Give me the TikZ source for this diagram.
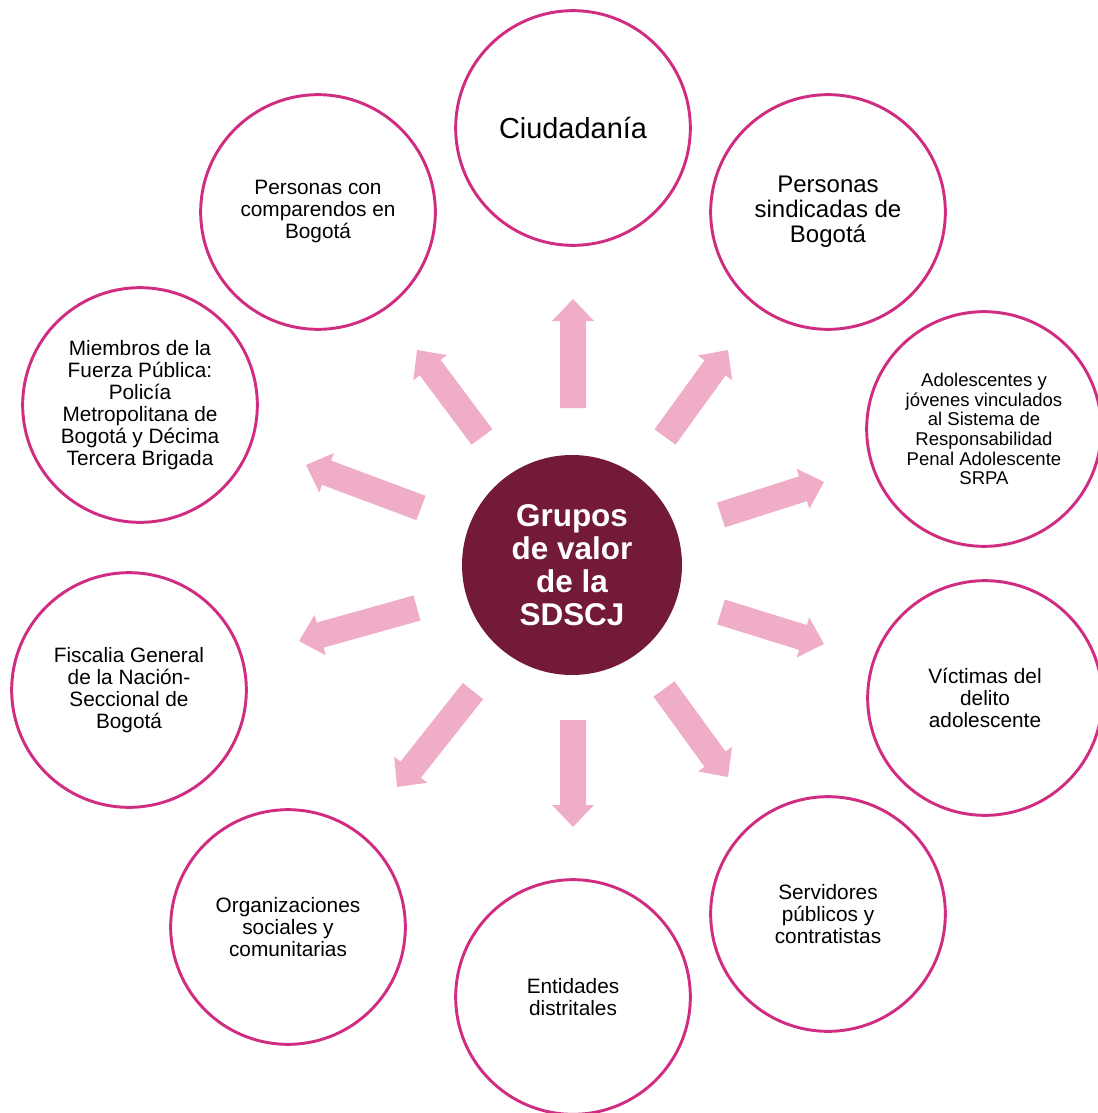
\documentclass[tikz,border=0pt]{standalone}
\usepackage{fontspec}
\setmainfont{Liberation Sans}
\definecolor{ringc}{RGB}{208,44,130}
\definecolor{arrowc}{RGB}{240,173,200}
\definecolor{hubc}{RGB}{115,26,54}
\begin{document}
\begin{tikzpicture}[x=0.75pt,y=-0.75pt,
  group/.style={circle, draw=ringc, line width=2.2pt, fill=white, minimum size=176pt,
    inner sep=0pt, align=center, font=\fontsize{15.6}{16.5}\selectfont},
  hub/.style={circle, fill=hubc, minimum size=165pt, inner sep=0pt, align=center,
    text=white, font=\fontsize{23.6}{24.75}\selectfont\bfseries},
  blockarrow/.style={fill=arrowc}]
\useasboundingbox (0,0) rectangle (1097,1113);

% block arrows radiating from the hub
\foreach \ax/\ay/\bx/\by in {573/408/573/299, 665/437/728/350, 721/515/824/482,
    721/612/824/644, 664/689/728/777, 573/720/573/827, 473/691/397/787,
    417/608/299/641, 421/508/306/465, 482/437/417/350}{
  \pgfmathsetmacro\ang{atan2(-(\by-\ay),\bx-\ax)}
  \pgfmathsetmacro\len{veclen(\bx-\ax,\by-\ay)}
  \begin{scope}[shift={(\ax,\ay)}, rotate=\ang]
    \fill[blockarrow] (0,-13) -- (\len-22,-13) -- (\len-22,-21) -- (\len,0)
      -- (\len-22,21) -- (\len-22,13) -- (0,13) -- cycle;
  \end{scope}
}

\node[hub] (hub) at (572,565) {Grupos\\de valor\\de la\\SDSCJ};

\node[group, font=\fontsize{21.7}{24}\selectfont] (ciud) at (573,128) {Ciudadanía};
\node[group, font=\fontsize{18}{18.75}\selectfont] (sind) at (828,212) {Personas\\sindicadas de\\Bogotá};
\node[group, font=\fontsize{13.9}{14.8}\selectfont] (adol) at (984,429) {Adolescentes y\\jóvenes vinculados\\al Sistema de\\Responsabilidad\\Penal Adolescente\\SRPA};
\node[group] (vict) at (985,698) {Víctimas del\\delito\\adolescente};
\node[group] (serv) at (828,914) {Servidores\\públicos y\\contratistas};
\node[group] (enti) at (573,997) {Entidades\\distritales};
\node[group] (orga) at (288,927) {Organizaciones\\sociales y\\comunitarias};
\node[group] (fisc) at (129,690) {Fiscalia General\\de la Nación-\\Seccional de\\Bogotá};
\node[group] (miem) at (140,405) {Miembros de la\\Fuerza Pública:\\Policía\\Metropolitana de\\Bogotá y Décima\\Tercera Brigada};
\node[group] (comp) at (318,212) {Personas con\\comparendos en\\Bogotá};
\end{tikzpicture}
\end{document}
